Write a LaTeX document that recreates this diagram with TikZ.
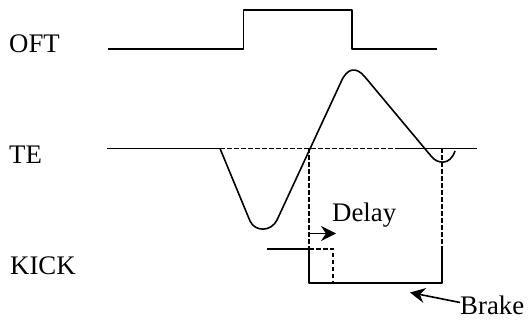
\documentclass[tikz,border=0pt]{standalone}
\usepackage{fontspec}
\setmainfont{Liberation Serif}
\usetikzlibrary{arrows.meta}
\begin{document}
\begin{tikzpicture}[x=1pt,y=-1pt,
  wave/.style={line width=1.6pt, line join=round},
  dsh/.style={line width=1.3pt, dash pattern=on 4.5pt off 2.5pt},
  lbl/.style={inner sep=0pt, anchor=base west, font=\fontsize{26.8}{30}\selectfont},
  arr/.style={line width=1.6pt, -{Stealth[length=15pt,width=15pt,inset=5pt]}}]
\useasboundingbox (0,0) rectangle (530,320);
% labels
\node[lbl] (oft) at (9,53) {OFT};
\node[lbl] (te) at (9,164) {TE};
\node[lbl] (kick) at (10,275) {KICK};
\node[lbl] (delay) at (332,221.5) {Delay};
\node[lbl] (brake) at (460,315) {Brake};
% OFT signal
\draw[wave] (108,49) -- (243.5,49) -- (243.5,10) -- (352,10) -- (352,49) -- (437,49);
% TE baseline
\draw[wave] (107,148.5) -- (220,148.5);
\draw[dsh] (220,148.5) -- (400,148.5);
\draw[wave] (400,148.5) -- (477,148.5);
% TE curve
\draw[wave] (220,148.5) -- (250,221) .. controls (255,232) and (271,232) .. (277,220)
  -- (341,82) .. controls (347,68) and (356,66) .. (365,77)
  -- (431,156) .. controls (437,164) and (450,166) .. (455,151);
% dashed verticals
\draw[dsh] (309,148.5) -- (309,249);
\draw[dsh] (442,148.5) -- (442,249);
% KICK signal
\draw[wave] (267,249) -- (309,249) -- (309,283) -- (442,283) -- (442,249);
\draw[dsh] (309,249) -- (333,249) -- (333,283);
% arrows
\coordinate (dTail) at (309,233.5);
\coordinate (dTip) at (336,233.5);
\draw[arr] (dTail) -- (dTip);
\coordinate (bTail) at (460,302.5);
\coordinate (bTip) at (410,292.5);
\draw[arr] (bTail) -- (bTip);
\end{tikzpicture}
\end{document}
